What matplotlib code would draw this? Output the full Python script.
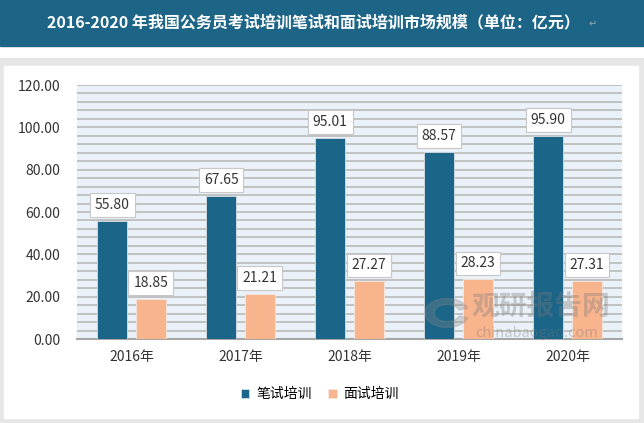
import numpy as np
import matplotlib.pyplot as plt
from matplotlib.patches import Rectangle, Wedge

plt.rcParams['font.family'] = ['Noto Sans CJK SC', 'DejaVu Sans']

years = ['2016年', '2017年', '2018年', '2019年', '2020年']
written = [55.80, 67.65, 95.01, 88.57, 95.90]
interview = [18.85, 21.21, 27.27, 28.23, 27.31]
series_names = ['笔试培训', '面试培训']
title = '2016-2020 年我国公务员考试培训笔试和面试培训市场规模（单位：亿元）'

W, H = 644, 423
blue = '#1b6588'
peach = '#f8b48d'

fig = plt.figure(figsize=(W / 100, H / 100), dpi=100)

# backgrounds (figure pixel coords -> fractions)
def frect(x0, y0, x1, y1, color, z=-5):
    fig.patches.append(Rectangle((x0 / W, 1 - y1 / H), (x1 - x0) / W, (y1 - y0) / H,
                                 transform=fig.transFigure, color=color, zorder=z))

frect(0, 0, W, 46, '#1d6587')
frect(0, 58, W, H, '#e6e6e6')
frect(4, 66, 638, 418, 'white', -4)

fig.text(0.487, 1 - 22 / H, title, color='white', fontsize=11.5, fontweight='bold',
         ha='center', va='center')
fig.text(0.92, 1 - 24 / H, '↵', color='#9aa5ad', fontsize=7, ha='center', va='center',
         family=['DejaVu Sans'])

ax = fig.add_axes([77 / W, 1 - 339 / H, 545 / W, 254 / H])
ax.set_facecolor('#eaf1f8')
ax.set_xlim(-0.5, 4.5)
ax.set_ylim(0, 120)

for v in np.arange(4, 121, 4):
    ax.axhline(v, color='#bdbdbd', lw=1.3, zorder=1)

x = np.arange(len(years))
off, w = 0.177, 0.275
b1 = ax.bar(x - off, written, w, color=blue, edgecolor='#d8dde2', lw=0.6, zorder=3)
b2 = ax.bar(x + off, interview, w, color=peach, edgecolor='#f4e8e0', lw=0.6, zorder=3)

box = dict(boxstyle='square,pad=0.35', fc='white', ec='#c8c8c8', lw=0.8)
for xi, v in zip(x - off, written):
    ax.text(xi, v + 7.5, f'{v:.2f}', ha='center', va='center', fontsize=10,
            color='#333333', bbox=box, zorder=5)
for xi, v in zip(x + off, interview):
    ax.text(xi, v + 7.5, f'{v:.2f}', ha='center', va='center', fontsize=10,
            color='#333333', bbox=box, zorder=5)

ax.set_xticks(x)
ax.set_xticklabels(years, fontsize=10, color='#333333')
ax.set_yticks(np.arange(0, 121, 20))
ax.set_yticklabels([f'{v:.2f}' for v in np.arange(0, 121, 20)], fontsize=10, color='#333333')
ax.tick_params(length=0, pad=12)
ax.tick_params(axis='x', pad=8)
for s in ['top', 'right', 'left']:
    ax.spines[s].set_visible(False)
ax.spines['bottom'].set_color('#a6a6a6')
ax.spines['bottom'].set_linewidth(1.5)

# watermark
fig.patches.append(Wedge((447 / W, 1 - 313 / H), 22 / W, 20, 340, width=9 / W,
                         transform=fig.transFigure, color='#8a8a8a', alpha=0.3, zorder=10))
fig.text(541 / W, 1 - 307 / H, '观研报告网', fontsize=20, fontweight='bold',
         color='#7a7a7a', alpha=0.35, ha='center', va='center', zorder=10)
fig.text(537 / W, 1 - 333 / H, 'chinabaogao.com', fontsize=10.5,
         color='#7a7a7a', alpha=0.35, ha='center', va='center', zorder=10)

fig.legend([b1, b2], series_names, loc='center', bbox_to_anchor=(320 / W, 1 - 394 / H),
           ncol=2, frameon=True, fontsize=10, handlelength=0.6, handleheight=0.6,
           columnspacing=1.2, handletextpad=0.5, edgecolor='white', fancybox=False,
           shadow=False)

fig.savefig('out.png', dpi=100)
